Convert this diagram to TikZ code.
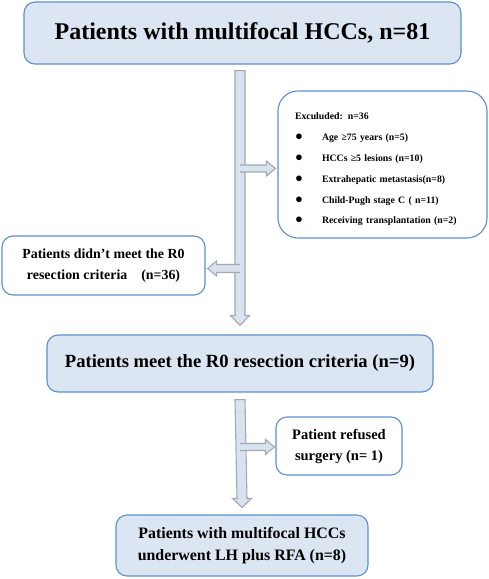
\documentclass[tikz,border=0pt]{standalone}
\usepackage{fontspec}
\setmainfont{Liberation Serif}
\usetikzlibrary{calc}

\definecolor{boxfill}{HTML}{DCE6F2}
\definecolor{boxline}{HTML}{5B8FD0}
\definecolor{arrfill}{HTML}{D9E2EF}
\definecolor{arrline}{HTML}{A3A8B3}

\newcommand{\exbullet}{\makebox[27pt][l]{\fontsize{13}{13}\selectfont ●}}

\begin{document}
\begin{tikzpicture}[
  x=1pt, y=-1pt,
  box/.style={
    draw=boxline,
    fill=boxfill,
    rounded corners=11pt,
    line width=1.1pt,
    align=center,
    inner sep=0pt,
    font=\bfseries
  },
  wbox/.style={
    box,
    fill=white
  },
  blockarr/.style={
    draw=arrline,
    fill=arrfill,
    line width=1.1pt,
    line join=miter
  }
]
\useasboundingbox (0,0) rectangle (489,579);

% Boxes of the main line
\node[box, minimum width=437pt, minimum height=62pt, font=\bfseries\fontsize{24}{28}\selectfont] (start) at (242.5,33) {Patients with multifocal HCCs, n=81};
\node[box, minimum width=386pt, minimum height=57pt, font=\bfseries\fontsize{18.6}{22}\selectfont] (crit) at (240,363.5) {Patients meet the R0 resection criteria (n=9)};
\node[box, minimum width=252pt, minimum height=61pt, font=\bfseries\fontsize{15.9}{21.5}\selectfont] (final) at (242,545.5) {Patients with multifocal HCCs\\underwent LH plus RFA (n=8)};

% Side boxes
\node[wbox, rounded corners=20pt, minimum width=209pt, minimum height=147pt, text width=175pt, align=left, font=\bfseries\fontsize{9.8}{20.8}\selectfont] (excl) at (382.5,164.5) {\rule{0pt}{17pt}Exculuded: n=36\\
\exbullet Age ≥75 years (n=5)\\
\exbullet HCCs ≥5 lesions (n=10)\\
\exbullet Extrahepatic metastasis(n=8)\\
\exbullet Child-Pugh stage C ( n=11)\\
\exbullet Receiving transplantation (n=2)};
\node[wbox, minimum width=203pt, minimum height=59pt, font=\bfseries\fontsize{13.9}{21}\selectfont] (notmet) at (103.5,265.5) {Patients didn’t meet the R0\\resection criteria\hspace{1em}(n=36)};
\node[wbox, minimum width=126pt, minimum height=58pt, font=\bfseries\fontsize{14.5}{21}\selectfont] (refused) at (339,446) {Patient refused\\surgery (n= 1)};

% Shaft coordinates
\coordinate (t1) at ($(start.south -| crit.north)+(0,6)$);
\coordinate (h1) at ($(crit.north)+(0,-9)$);
\coordinate (t2) at ($(crit.south)+(0,7)$);
\coordinate (h2) at ($(final.north)+(0,-7)$);

% Vertical block arrows
\filldraw[blockarr] ([xshift=-5pt]t1) -- ([xshift=-5pt,yshift=10pt]h1) -- ([xshift=-9.5pt,yshift=10pt]h1) -- (h1)
  -- ([xshift=9.5pt,yshift=10pt]h1) -- ([xshift=5pt,yshift=10pt]h1) -- ([xshift=5pt]t1) -- cycle;
\filldraw[blockarr] ([xshift=-5pt]t2) -- ([xshift=-5pt,yshift=9pt]h2) -- ([xshift=-9.5pt,yshift=9pt]h2) -- (h2)
  -- ([xshift=9.5pt,yshift=9pt]h2) -- ([xshift=5pt,yshift=9pt]h2) -- ([xshift=5pt]t2) -- cycle;

% Branch arrows
\coordinate (e1) at ($(excl.west)+(-2,4)$);
\coordinate (e2) at ($(notmet.east)+(2,3)$);
\coordinate (e3) at ($(refused.west)+(-1,1)$);
\filldraw[blockarr] ([yshift=3.5pt]e1 -| t1) -- ([xshift=-9pt,yshift=3.5pt]e1) -- ([xshift=-9pt,yshift=7.5pt]e1) -- (e1)
  -- ([xshift=-9pt,yshift=-7.5pt]e1) -- ([xshift=-9pt,yshift=-3.5pt]e1) -- ([yshift=-3.5pt]e1 -| t1);
\filldraw[blockarr] ([yshift=4pt]e2 -| t1) -- ([xshift=9pt,yshift=4pt]e2) -- ([xshift=9pt,yshift=7.5pt]e2) -- (e2)
  -- ([xshift=9pt,yshift=-7.5pt]e2) -- ([xshift=9pt,yshift=-4pt]e2) -- ([yshift=-4pt]e2 -| t1);
\filldraw[blockarr] ([yshift=3.5pt]e3 -| t2) -- ([xshift=-9pt,yshift=3.5pt]e3) -- ([xshift=-9pt,yshift=7.5pt]e3) -- (e3)
  -- ([xshift=-9pt,yshift=-7.5pt]e3) -- ([xshift=-9pt,yshift=-3.5pt]e3) -- ([yshift=-3.5pt]e3 -| t2);

\end{tikzpicture}
\end{document}
